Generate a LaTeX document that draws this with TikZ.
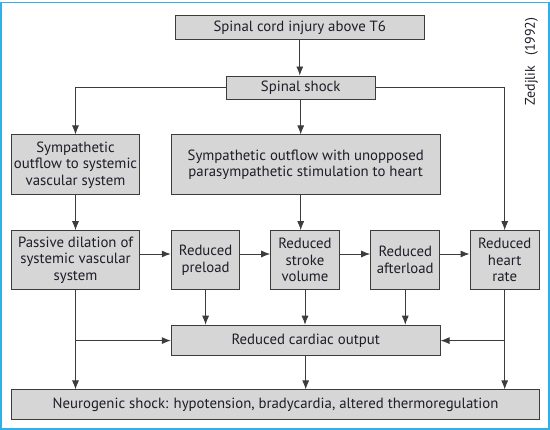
\documentclass[tikz,border=0pt]{standalone}
\usepackage{fontspec}
\setmainfont{PT Sans}
\usetikzlibrary{arrows.meta}
\definecolor{boxfill}{HTML}{D6D6D6}
\definecolor{boxline}{HTML}{3C3C3C}
\definecolor{txt}{HTML}{1E1D28}
\definecolor{framecol}{HTML}{2FB0E6}
\tikzset{
  box/.style={draw=boxline, line width=1pt, fill=boxfill, inner sep=0pt,
    align=center, text=txt, font=\fontsize{14.8}{16.5}\selectfont},
  arr/.style={draw=boxline, line width=0.9pt, -{Latex[length=9pt,width=7pt]}},
}
\begin{document}
\begin{tikzpicture}[x=1pt,y=-1pt]
\useasboundingbox (0,0) rectangle (550,430);
\draw[framecol, line width=1.5pt] (1,2.5) rectangle (549,429);
\node[box, minimum width=249pt, minimum height=23.6pt] (top) at (299.8,27.5) {Spinal cord injury above T6};
\node[box, minimum width=149.4pt, minimum height=23.3pt] (shock) at (300.7,87.7) {Spinal shock};
\node[box, minimum width=127.6pt, minimum height=60pt] (sym) at (75.5,165) {Sympathetic\\outflow to systemic\\vascular system};
\node[box, minimum width=268.7pt, minimum height=60pt] (mid) at (305.7,165) {Sympathetic outflow with unopposed\\parasympathetic stimulation to heart};
\node[box, minimum width=127.6pt, minimum height=58.6pt] (pass) at (75.5,260) {Passive dilation of\\systemic vascular\\system};
\node[box, minimum width=68.7pt, minimum height=58.6pt] (pre) at (205.6,260) {Reduced\\preload};
\node[box, minimum width=68.6pt, minimum height=58.6pt] (stroke) at (305,260) {Reduced\\stroke\\volume};
\node[box, minimum width=69.3pt, minimum height=58.6pt] (aft) at (405.3,260) {Reduced\\afterload};
\node[box, minimum width=69.3pt, minimum height=58.6pt] (rate) at (504.7,260) {Reduced\\heart\\rate};
\node[box, minimum width=268.7pt, minimum height=30.7pt] (co) at (305.7,340.6) {Reduced cardiac output};
\node[box, minimum width=527.6pt, minimum height=29.3pt] (neu) at (275.5,404.6) {Neurogenic shock: hypotension, bradycardia, altered thermoregulation};
\node[rotate=90, text=txt, font=\fontsize{14}{16}\selectfont, inner sep=0pt] (src) at (531.5,61.5) {Zedjlik\hspace{0.7em}(1992)};
% connectors
\draw[arr] (top.south) -- (top.south |- shock.north);
\draw[arr] (shock.west) -| (sym.north);
\draw[arr] (shock.south) -- (shock.south |- mid.north);
\draw[arr] (shock.east) -| (rate.north);
\draw[arr] (sym.south) -- (pass.north);
\draw[arr] (shock.south |- mid.south) -- (shock.south |- stroke.north);
\draw[arr] ([yshift=6pt]pass.east) -- ([yshift=6pt]pre.west);
\draw[arr] ([yshift=6pt]pre.east) -- ([yshift=6pt]stroke.west);
\draw[arr] ([yshift=6pt]stroke.east) -- ([yshift=6pt]aft.west);
\draw[arr] ([yshift=6pt]aft.east) -- ([yshift=6pt]rate.west);
\draw[arr] (pre.south) -- (pre.south |- co.north);
\draw[arr] (stroke.south) -- (stroke.south |- co.north);
\draw[arr] (aft.south) -- (aft.south |- co.north);
\draw[arr] (pass.south) -- (pass.south |- neu.north);
\draw[arr] (rate.south) -- (rate.south |- neu.north);
\draw[arr] (pass.south |- co.west) -- (co.west);
\draw[arr] (rate.south |- co.east) -- (co.east);
\draw[arr] (co.south) -- (co.south |- neu.north);
\end{tikzpicture}
\end{document}
